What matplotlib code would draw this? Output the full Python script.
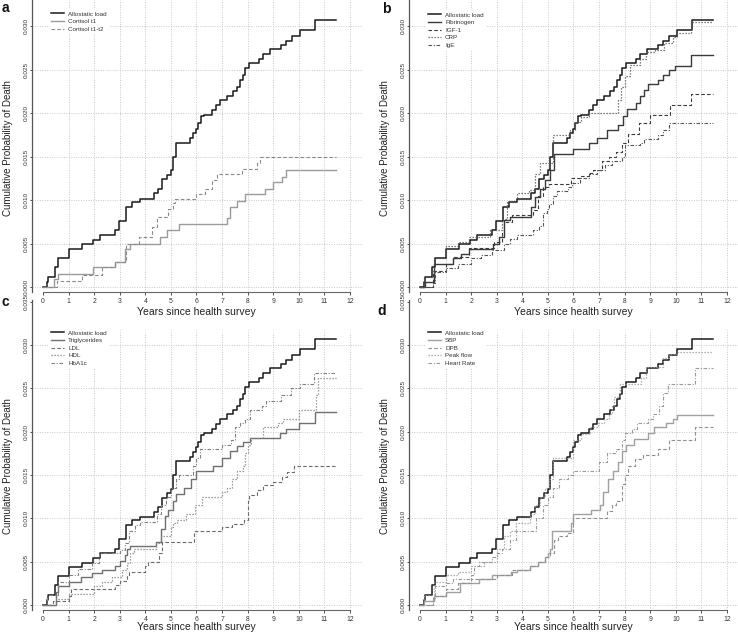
import matplotlib
matplotlib.use("Agg")
import matplotlib.pyplot as plt
import numpy as np

plt.rcParams['font.family'] = ['Liberation Sans', 'DejaVu Sans']

# ---------------- data (cumulative probability of death, step functions) ----------------
al_t = [0, 0.15, 0.2, 0.48, 0.6, 1.0, 1.52, 1.94, 2.24, 2.8, 2.96, 3.26, 3.48, 3.8, 4.33, 4.5, 4.65, 4.85, 5.0, 5.1,
        5.2, 5.76, 5.86, 5.97, 6.06, 6.19, 6.3, 6.6, 6.77, 6.93, 7.19, 7.42, 7.6, 7.72, 7.82, 7.9, 8.04, 8.43, 8.62,
        8.88, 9.3, 9.5, 9.73, 10.06, 10.64, 11.45]
al_v = [0, 0.0006, 0.0012, 0.0023, 0.0033, 0.0044, 0.0049, 0.00545, 0.00595, 0.0065, 0.0076, 0.0092, 0.00975, 0.0101,
        0.01075, 0.0113, 0.0124, 0.0129, 0.0134, 0.0150, 0.0166, 0.0171, 0.0177, 0.0182, 0.0188, 0.0196, 0.0198,
        0.0203, 0.0209, 0.0215, 0.0220, 0.0225, 0.0230, 0.0238, 0.0244, 0.0252, 0.0257, 0.0262, 0.0268, 0.0273,
        0.0278, 0.0283, 0.0289, 0.0295, 0.0307, 0.0307]

# panel a
cort1_t = [0, 0.44, 0.6, 1.94, 2.8, 3.2, 3.4, 4.58, 4.85, 5.3, 7.19, 7.32, 7.58, 7.9, 8.69, 8.99, 9.34, 9.5, 11.45]
cort1_v = [0, 0.0009, 0.0015, 0.0023, 0.0029, 0.0044, 0.0050, 0.0057, 0.0065, 0.0072, 0.0079, 0.0092, 0.0099, 0.0107,
           0.0113, 0.0121, 0.0127, 0.0134, 0.0134]
cort12_t = [0, 0.55, 1.52, 2.3, 2.8, 3.26, 3.74, 4.26, 4.45, 4.9, 5.07, 5.17, 5.97, 6.35, 6.6, 6.8, 7.78, 8.37, 8.5, 11.45]
cort12_v = [0, 0.0007, 0.0014, 0.0023, 0.0029, 0.0050, 0.0057, 0.0069, 0.0080, 0.0090, 0.0096, 0.0101, 0.0107, 0.0113,
            0.0123, 0.0130, 0.0136, 0.0143, 0.0150, 0.0150]

# panel b
fib_t = [0, 0.2, 0.55, 1.3, 1.6, 1.9, 2.85, 3.1, 3.3, 3.5, 4.35, 4.5, 4.7, 4.9, 5.1, 5.25, 6.0, 6.6, 6.9, 7.3, 7.75,
         7.95, 8.1, 8.45, 8.6, 8.75, 8.9, 9.3, 9.5, 9.75, 9.95, 10.6, 11.45]
fib_v = [0, 0.0006, 0.0027, 0.0033, 0.0038, 0.0044, 0.0050, 0.0057, 0.0077, 0.0081, 0.0092, 0.0104, 0.0113, 0.0123,
         0.0134, 0.0153, 0.0159, 0.0165, 0.0171, 0.0180, 0.0186, 0.0196, 0.0205, 0.0211, 0.0219, 0.0226, 0.0233,
         0.0238, 0.0244, 0.0249, 0.0254, 0.0267, 0.0267]
igf_t = [0, 0.5, 1.0, 1.3, 1.9, 2.9, 3.2, 3.3, 3.6, 4.4, 4.6, 4.8, 5.05, 5.9, 6.25, 6.6, 6.75, 7.1, 7.4, 7.65, 7.9,
         8.14, 8.56, 9.0, 9.77, 10.6, 11.45]
igf_v = [0, 0.0018, 0.0027, 0.0035, 0.0045, 0.0052, 0.0062, 0.0075, 0.0083, 0.0088, 0.0105, 0.0115, 0.0118, 0.0125,
         0.0128, 0.0131, 0.0135, 0.0145, 0.0150, 0.0155, 0.0165, 0.0176, 0.0189, 0.0198, 0.0209, 0.0222, 0.0222]
crp_t = [0, 0.15, 0.55, 1.0, 1.5, 1.9, 2.75, 3.2, 3.4, 3.8, 4.25, 4.5, 4.7, 5.2, 5.85, 6.05, 6.3, 6.6, 7.75, 7.85,
         8.0, 8.2, 8.6, 8.85, 9.2, 9.55, 9.9, 10.05, 10.6, 11.45]
crp_v = [0, 0.0012, 0.0033, 0.0047, 0.0052, 0.0058, 0.0065, 0.0078, 0.0098, 0.0108, 0.0112, 0.0130, 0.0142, 0.0175,
         0.0180, 0.0190, 0.0195, 0.0200, 0.0215, 0.0230, 0.0242, 0.0255, 0.0262, 0.0270, 0.0272, 0.0280, 0.0287,
         0.0292, 0.0305, 0.0305]
ige_t = [0, 0.5, 0.6, 1.0, 1.5, 2.0, 2.4, 2.8, 3.3, 3.5, 3.8, 4.4, 4.65, 4.8, 4.95, 5.05, 5.2, 5.35, 5.8, 5.95, 6.25,
         6.6, 6.9, 7.25, 7.5, 7.9, 8.0, 8.6, 8.75, 9.3, 9.5, 9.75, 11.45]
ige_v = [0, 0.0005, 0.0017, 0.0022, 0.0027, 0.0033, 0.0037, 0.0043, 0.0050, 0.0055, 0.0060, 0.0065, 0.0070, 0.0085,
         0.0090, 0.0095, 0.0105, 0.0110, 0.0115, 0.0120, 0.0125, 0.0130, 0.0135, 0.0140, 0.0145, 0.0150, 0.0163,
         0.0165, 0.0170, 0.0175, 0.0180, 0.0188, 0.0188]

# panel c
tri_t = [0, 0.5, 0.6, 1.0, 1.5, 1.9, 2.3, 2.8, 3.0, 3.2, 3.3, 3.4, 4.4, 4.6, 4.75, 4.9, 5.1, 5.2, 5.5, 5.8, 6.0,
         6.65, 7.0, 7.3, 7.6, 7.8, 8.1, 9.25, 9.5, 10.0, 10.65, 11.45]
tri_v = [0, 0.0015, 0.0022, 0.0027, 0.0032, 0.0037, 0.0040, 0.0045, 0.0051, 0.0058, 0.0065, 0.0068, 0.0073, 0.0088,
         0.0103, 0.0110, 0.0120, 0.0128, 0.0135, 0.0145, 0.0155, 0.0160, 0.0170, 0.0178, 0.0183, 0.0188, 0.0193,
         0.0198, 0.0203, 0.0210, 0.0223, 0.0223]
ldl_t = [0, 0.4, 1.0, 1.1, 2.8, 3.0, 3.3, 3.35, 4.0, 4.1, 4.55, 4.65, 5.9, 7.0, 7.4, 7.85, 8.0, 8.05, 8.35, 8.6, 9.0,
         9.35, 9.55, 9.8, 11.45]
ldl_v = [0, 0.0005, 0.0010, 0.0018, 0.0023, 0.0028, 0.0035, 0.0038, 0.0045, 0.0050, 0.0060, 0.0073, 0.0085, 0.0090,
         0.0093, 0.0098, 0.0120, 0.0127, 0.0133, 0.0138, 0.0142, 0.0148, 0.0153, 0.0160, 0.0160]
hdl_t = [0, 0.5, 1.0, 2.0, 2.3, 2.7, 3.1, 3.3, 3.4, 3.55, 4.4, 4.6, 5.0, 5.1, 5.25, 5.6, 5.95, 6.2, 7.0, 7.2, 7.4,
         7.6, 7.8, 7.9, 8.0, 8.15, 8.6, 9.2, 9.4, 10.0, 10.68, 10.75, 11.45]
hdl_v = [0, 0.0007, 0.0013, 0.0022, 0.0027, 0.0032, 0.0040, 0.0048, 0.0060, 0.0065, 0.0072, 0.0080, 0.0090, 0.0095,
         0.0098, 0.0105, 0.0115, 0.0125, 0.0130, 0.0135, 0.0145, 0.0155, 0.0160, 0.0175, 0.0185, 0.0193, 0.0205,
         0.0210, 0.0215, 0.0225, 0.0242, 0.0262, 0.0262]
hba_t = [0, 0.15, 0.6, 1.0, 1.35, 1.9, 2.2, 3.0, 3.2, 3.35, 3.6, 3.8, 4.45, 4.6, 4.8, 5.0, 5.2, 5.3, 5.85, 6.0, 6.15,
         7.0, 7.35, 7.5, 7.7, 7.9, 8.1, 8.55, 8.7, 9.3, 9.7, 10.05, 10.6, 11.45]
hba_v = [0, 0.0012, 0.0027, 0.0035, 0.0042, 0.0048, 0.0060, 0.0063, 0.0072, 0.0085, 0.0092, 0.0096, 0.0105, 0.0115,
         0.0125, 0.0135, 0.0145, 0.0150, 0.0160, 0.0170, 0.0180, 0.0185, 0.0190, 0.0205, 0.0210, 0.0215, 0.0225,
         0.0230, 0.0235, 0.0242, 0.0250, 0.0255, 0.0268, 0.0268]

# panel d
sbp_t = [0, 0.15, 0.55, 1.0, 1.55, 2.3, 2.8, 3.55, 3.8, 4.3, 4.6, 4.9, 5.0, 5.1, 5.15, 5.9, 6.0, 6.7, 7.05, 7.15,
         7.35, 7.55, 7.75, 7.9, 8.05, 8.35, 8.9, 9.15, 9.6, 9.9, 10.05, 11.45]
sbp_v = [0, 0.0005, 0.0010, 0.0015, 0.0025, 0.0030, 0.0035, 0.0038, 0.0040, 0.0045, 0.0050, 0.0055, 0.0060, 0.0065,
         0.0085, 0.0095, 0.0105, 0.0110, 0.0115, 0.0130, 0.0145, 0.0155, 0.0165, 0.0178, 0.0185, 0.0192, 0.0198,
         0.0205, 0.0210, 0.0215, 0.0219, 0.0219]
dbp_t = [0, 0.5, 1.0, 1.5, 2.0, 3.0, 3.6, 4.3, 4.6, 4.9, 5.1, 5.25, 5.4, 5.75, 6.0, 7.3, 7.5, 7.65, 7.9, 8.0, 8.15,
         8.4, 8.7, 9.3, 9.75, 10.75, 11.45]
dbp_v = [0, 0.0010, 0.0018, 0.0025, 0.0030, 0.0035, 0.0040, 0.0045, 0.0050, 0.0055, 0.0060, 0.0075, 0.0080, 0.0083,
         0.0100, 0.0108, 0.0115, 0.0120, 0.0140, 0.0150, 0.0160, 0.0168, 0.0173, 0.0180, 0.0190, 0.0205, 0.0205]
peak_t = [0, 0.15, 0.55, 1.0, 1.5, 2.0, 2.5, 3.0, 3.3, 3.5, 3.75, 4.3, 4.5, 4.7, 4.9, 5.05, 5.2, 6.0, 6.3, 6.65, 6.95,
          7.2, 7.4, 7.5, 7.6, 7.8, 8.65, 8.85, 9.5, 9.75, 10.05, 11.45]
peak_v = [0, 0.0012, 0.0027, 0.0035, 0.0038, 0.0045, 0.0050, 0.0065, 0.0080, 0.0085, 0.0095, 0.0105, 0.0115, 0.0125,
          0.0135, 0.0145, 0.0170, 0.0190, 0.0197, 0.0205, 0.0210, 0.0215, 0.0220, 0.0230, 0.0240, 0.0255, 0.0262,
          0.0275, 0.0285, 0.0290, 0.0292, 0.0292]
hr_t = [0, 0.5, 0.6, 1.0, 1.3, 2.0, 2.1, 2.3, 2.8, 3.0, 3.2, 3.5, 3.75, 4.55, 4.8, 5.0, 5.2, 5.45, 5.8, 6.0, 7.0, 7.3,
        7.65, 7.9, 8.0, 8.3, 8.5, 8.9, 9.1, 9.35, 9.5, 9.7, 10.75, 11.45]
hr_v = [0, 0.0007, 0.0022, 0.0025, 0.0030, 0.0035, 0.0045, 0.0050, 0.0055, 0.0060, 0.0065, 0.0075, 0.0085, 0.0100,
        0.0115, 0.0125, 0.0135, 0.0145, 0.0150, 0.0155, 0.0165, 0.0175, 0.0180, 0.0190, 0.0198, 0.0203, 0.0210,
        0.0215, 0.0220, 0.0230, 0.0245, 0.0255, 0.0274, 0.0274]

x_ticks = list(range(0, 13))
y_ticks = [0.000, 0.005, 0.010, 0.015, 0.020, 0.025, 0.030, 0.035]
grid_y = [0.000, 0.005, 0.010, 0.015, 0.020, 0.025, 0.030]
x_label = "Years since health survey"
y_label = "Cumulative Probability of Death"

# ---------------- layout ----------------
W, H = 738, 637
fig = plt.figure(figsize=(W / 100, H / 100), dpi=100)
fig.patch.set_facecolor('white')

SOLID = '-'
DASH = (0, (3.2, 2.0))
DOT = (0, (1.0, 1.4))
DASHDOT = (0, (3.2, 1.5, 1.0, 1.5))


def make_axes(left, right, top, bottom, x0_px, y0_px, px_per_unit_y, grid_top):
    ax = fig.add_axes([left / W, 1 - bottom / H, (right - left) / W, (bottom - top) / H])
    ax.set_facecolor('none')
    pxy = 25.58
    xlim = ((left - x0_px) / pxy, (right - x0_px) / pxy)
    ylim = (-(bottom - y0_px) / px_per_unit_y, (y0_px - top) / px_per_unit_y)
    for s in ['top', 'right']:
        ax.spines[s].set_visible(False)
    ax.spines['left'].set_color('#555555')
    ax.spines['left'].set_linewidth(0.9)
    ax.spines['bottom'].set_color('#666666')
    ax.spines['bottom'].set_linewidth(0.8)
    ax.spines['bottom'].set_bounds(0, 12)
    ax.set_xticks(x_ticks)
    ax.set_xticklabels([str(t) for t in x_ticks])
    ax.set_yticks(y_ticks)
    ax.set_yticklabels(['%.3f' % v for v in y_ticks])
    ax.tick_params(axis='x', length=2.5, width=0.6, labelsize=4.9, pad=1.5, colors='#333333')
    ax.tick_params(axis='y', length=1.5, width=0.6, labelsize=4.6, pad=1.0, colors='#333333',
                   labelrotation=90)
    for lab in ax.get_yticklabels():
        lab.set_verticalalignment('center')
    for gy in grid_y:
        ax.axhline(gy, color='#c8c8c8', lw=0.7, ls=(0, (1, 1.5)), zorder=0)
    for gx in x_ticks[1:]:
        ax.plot([gx, gx], [ylim[0], min(grid_top, ylim[1])], color='#c8c8c8', lw=0.7,
                ls=(0, (1, 1.5)), zorder=0)
    ax.set_xlim(*xlim)
    ax.set_ylim(*ylim)
    ax.set_autoscale_on(False)
    return ax


# lower row first so the upper row's labels sit on top
ax_c = make_axes(32, 362, 300, 610, 43, 605, 8667.0, 0.0317)
ax_d = make_axes(409, 738, 300, 610, 420, 605, 8667.0, 0.0317)
ax_a = make_axes(32, 362, 0, 292, 43, 287, 8700.0, 0.034)
ax_b = make_axes(409, 738, 0, 292, 420, 287, 8700.0, 0.034)


def draw(ax, series, anchor_px):
    handles = []
    for (t, v, label, color, ls, lw) in series:
        h, = ax.step(t, v, where='post', color=color, ls=ls, lw=lw, label=label)
        handles.append(h)
    leg = ax.legend(handles=handles, loc='upper left',
                    bbox_to_anchor=(anchor_px[0] / W, 1 - anchor_px[1] / H),
                    bbox_transform=fig.transFigure, fontsize=4.5, frameon=True,
                    facecolor='white', edgecolor='none', framealpha=1.0, borderpad=0.35,
                    borderaxespad=0, labelspacing=0.36, handlelength=2.1, handletextpad=0.6)
    leg.set_zorder(5)
    for txt in leg.get_texts():
        txt.set_color('#333333')


AL = (al_t, al_v, 'Allostatic load', '#1a1a1a', SOLID, 1.1)

draw(ax_a, [AL,
            (cort1_t, cort1_v, 'Cortisol t1', '#9a9a9a', SOLID, 1.0),
            (cort12_t, cort12_v, 'Cortisol t1-t2', '#8a8a8a', DASH, 0.8)], (49, 9))
draw(ax_b, [AL,
            (fib_t, fib_v, 'Fibrinogen', '#3a3a3a', SOLID, 1.0),
            (igf_t, igf_v, 'IGF-1', '#3a3a3a', DASH, 0.8),
            (crp_t, crp_v, 'CRP', '#555555', DOT, 0.9),
            (ige_t, ige_v, 'IgE', '#555555', DASHDOT, 0.8)], (426, 10))
draw(ax_c, [AL,
            (tri_t, tri_v, 'Triglycerides', '#707070', SOLID, 1.0),
            (ldl_t, ldl_v, 'LDL', '#6a6a6a', DASH, 0.8),
            (hdl_t, hdl_v, 'HDL', '#808080', DOT, 0.9),
            (hba_t, hba_v, 'HbA1c', '#808080', DASHDOT, 0.8)], (49, 328))
draw(ax_d, [AL,
            (sbp_t, sbp_v, 'SBP', '#a0a0a0', SOLID, 1.0),
            (dbp_t, dbp_v, 'DPB', '#909090', DASH, 0.8),
            (peak_t, peak_v, 'Peak flow', '#9a9a9a', DOT, 0.9),
            (hr_t, hr_v, 'Heart Rate', '#9a9a9a', DASHDOT, 0.8)], (426, 328))

# axis titles
for (xc, yc) in [(196, 312), (573, 312), (196, 627), (573, 627)]:
    fig.text(xc / W, 1 - yc / H, x_label, ha='center', va='center', fontsize=7.5, color='#222222')
for (xc, yc) in [(8, 148), (385, 148), (8, 466), (385, 466)]:
    fig.text(xc / W, 1 - yc / H, y_label, ha='center', va='center', rotation=90, fontsize=7.0,
             color='#222222')

# panel letters
for (letter, xl, yb) in [('a', 2, 12), ('b', 382, 13), ('c', 2, 306), ('d', 377, 315)]:
    fig.text(xl / W, 1 - yb / H, letter, ha='left', va='baseline', fontsize=10, fontweight='bold',
             color='#111111')

fig.savefig('out.png', dpi=100, facecolor='white')
